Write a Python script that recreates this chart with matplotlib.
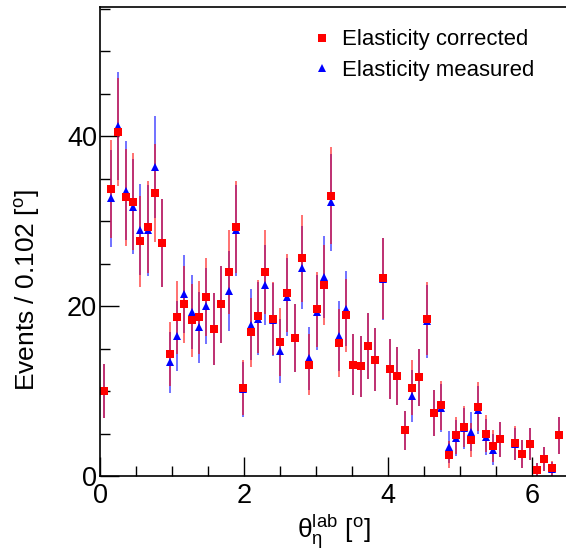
import matplotlib
matplotlib.use("Agg")
import matplotlib.pyplot as plt
import numpy as np
from matplotlib.ticker import MultipleLocator

plt.rcParams["font.family"] = ["Liberation Sans", "DejaVu Sans"]
plt.rcParams["mathtext.fontset"] = "custom"
plt.rcParams["mathtext.rm"] = "Liberation Sans"
plt.rcParams["mathtext.it"] = "Liberation Sans"
plt.rcParams["mathtext.default"] = "regular"

bin_width = 0.102

# Elasticity corrected (red squares), one value per bin, nan = empty bin
corrected = [10.0, 33.8, 40.5, 32.8, 32.3, 27.6, 29.3, 33.3, 27.4, 14.35,
             18.7, 20.2, 18.35, 18.7, 21.1, 17.3, 20.2, 24.0, 29.3, 10.4,
             16.9, 18.8, 24.0, 18.5, 15.8, 21.5, 16.2, 25.6, 13.1, 19.6,
             22.5, 33.0, 15.7, 18.9, 13.1, 12.9, 15.3, 13.7, 23.25, 12.6,
             11.8, 5.4, 10.4, 11.6, 18.5, 7.4, 8.3, 2.5, 4.8, 5.8,
             4.2, 8.15, 5.0, 3.5, 4.3, np.nan, 3.9, 2.6, 3.8, 0.7,
             2.0, 0.9, 4.8]
corrected_err = [3.2, 5.8, 6.4, 5.7, 5.7, 5.3, 5.4, 5.8, 5.2, 3.8,
                 4.3, 4.5, 4.3, 4.3, 4.6, 4.2, 4.5, 4.9, 5.4, 3.2,
                 4.1, 4.3, 4.9, 4.3, 4.0, 4.6, 4.0, 5.1, 3.6, 4.4,
                 4.7, 5.7, 4.0, 4.3, 3.6, 3.6, 3.9, 3.7, 4.8, 3.5,
                 3.4, 2.3, 3.2, 3.4, 4.3, 2.7, 2.9, 1.6, 2.2, 2.4,
                 2.0, 2.9, 2.2, 1.9, 2.1, np.nan, 2.0, 1.6, 1.9, 0.8,
                 1.4, 0.9, 2.2]

# Elasticity measured (blue triangles)
measured = [10.0, 32.7, 41.2, 33.6, 31.7, 29.0, 28.9, 36.4, 27.4, 13.4,
            16.5, 21.4, 19.3, 17.5, 20.0, 17.3, 20.2, 21.8, 28.9, 10.2,
            17.8, 18.5, 22.5, 18.4, 14.7, 21.1, 16.2, 24.5, 13.85, 19.25,
            23.45, 32.2, 16.5, 19.7, 13.1, 12.9, 15.3, 13.7, 23.2, 12.6,
            11.8, 5.4, 9.4, 11.6, 18.2, 7.4, 8.0, 3.45, 4.5, 5.6,
            5.2, 7.8, 4.6, 3.1, 4.3, np.nan, 3.8, 2.6, 3.8, 0.7,
            2.0, 0.8, 4.8]
measured_err = [3.2, 5.7, 6.4, 5.8, 5.6, 5.4, 5.4, 6.0, 5.2, 3.6,
                4.1, 4.6, 4.4, 4.2, 4.5, 4.2, 4.5, 4.7, 5.4, 3.2,
                4.2, 4.3, 4.7, 4.3, 3.8, 4.6, 4.0, 4.9, 3.7, 4.4,
                4.8, 5.7, 4.1, 4.4, 3.6, 3.6, 3.9, 3.7, 4.8, 3.5,
                3.4, 2.3, 3.1, 3.4, 4.3, 2.7, 2.8, 1.9, 2.1, 2.4,
                2.3, 2.8, 2.1, 1.8, 2.1, np.nan, 1.9, 1.6, 1.9, 0.8,
                1.4, 0.9, 2.2]

x = bin_width * (np.arange(len(corrected)) + 0.5)

fig = plt.figure(figsize=(5.66, 5.5), dpi=100)
ax = fig.add_axes([100 / 566, 74 / 550, 470 / 566, 469 / 550])

# error bars first, markers on top
ax.errorbar(x, measured, yerr=measured_err, fmt="none", ecolor="blue",
            elinewidth=1.3, capsize=0, alpha=0.6)
ax.errorbar(x, corrected, yerr=corrected_err, fmt="none", ecolor="red",
            elinewidth=1.3, capsize=0, alpha=0.6)
ax.plot(x, measured, "^", color="blue", ms=6, mew=0, label="Elasticity measured")
ax.plot(x, corrected, "s", color="red", ms=5.5, mew=0, label="Elasticity corrected")

ax.set_xlim(0, 64 * bin_width)
ax.set_ylim(0, 55.2)

ax.xaxis.set_major_locator(MultipleLocator(2))
ax.xaxis.set_minor_locator(MultipleLocator(0.5))
ax.yaxis.set_major_locator(MultipleLocator(20))
ax.yaxis.set_minor_locator(MultipleLocator(5))
ax.tick_params(which="both", direction="in", top=False, right=False,
               colors="black", labelsize=19.5, width=1)
ax.tick_params(which="major", length=14)
ax.tick_params(which="minor", length=7)
ax.tick_params(axis="x", pad=5)
ax.tick_params(axis="y", pad=2)
for s in ax.spines.values():
    s.set_linewidth(1.2)
ax.spines["right"].set_visible(False)

fig.text(334 / 566, 1 - 532 / 550, r"$θ_{η}^{lab}$ [$^{o}$]",
         ha="center", va="center", fontsize=19)
fig.text(28 / 566, 1 - 290 / 550, r"Events / 0.102 [$^{o}$]",
         ha="center", va="center", rotation=90, fontsize=19)

h, l = ax.get_legend_handles_labels()
ax.legend(h[::-1], l[::-1], loc="upper left",
          bbox_to_anchor=(313 / 566, 1 - 29.5 / 550),
          bbox_transform=fig.transFigure, frameon=False, fontsize=15.9,
          handlelength=0.8, handletextpad=0.52, labelspacing=0.42,
          borderpad=0, borderaxespad=0)

fig.savefig("out.png", dpi=100)
